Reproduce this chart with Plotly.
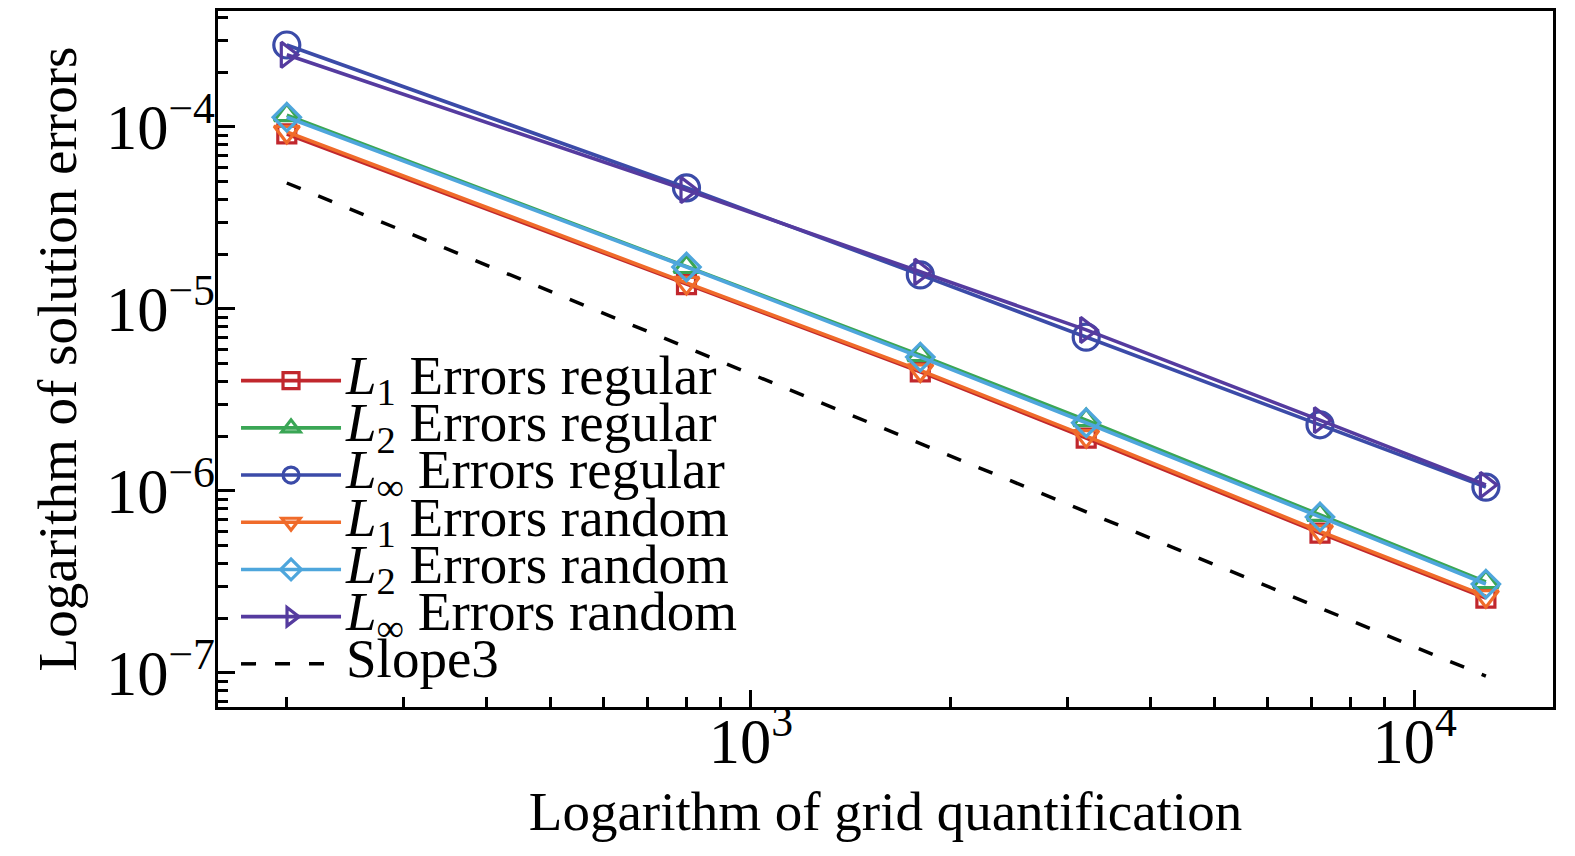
import plotly.graph_objects as go

# grid sizes and error norms
grid_points = [200, 800, 1800, 3200, 7200, 12800]

l1_regular = [9.15e-5, 1.36e-5, 4.51e-6, 1.95e-6, 5.87e-7, 2.58e-7]
l2_regular = [1.16e-4, 1.70e-5, 5.58e-6, 2.45e-6, 7.38e-7, 3.16e-7]
linf_regular = [2.82e-4, 4.63e-5, 1.54e-5, 7.0e-6, 2.31e-6, 1.05e-6]
l1_random = [9.4e-5, 1.39e-5, 4.6e-6, 2.0e-6, 6.0e-7, 2.64e-7]
l2_random = [1.13e-4, 1.70e-5, 5.44e-6, 2.37e-6, 7.2e-7, 3.08e-7]
linf_random = [2.49e-4, 4.5e-5, 1.6e-5, 7.67e-6, 2.45e-6, 1.08e-6]
slope3 = [4.92e-5, 6.15e-6, 1.82e-6, 7.69e-7, 2.28e-7, 9.6e-8]

FONT = "Liberation Serif"


def label(sub, kind):
    return (f'<span style="font-size:55px"><i>L</i><sub>{sub}</sub>'
            f' Errors {kind}</span>')


series = [
    (label("1", "regular"), l1_regular, "#c1272d", "square-open", 18),
    (label("2", "regular"), l2_regular, "#3aa655", "triangle-up-open", 22),
    (label("∞", "regular"), linf_regular, "#3b4ba8", "circle-open", 26),
    (label("1", "random"), l1_random, "#f06b2a", "triangle-down-open", 22),
    (label("2", "random"), l2_random, "#4ea6dc", "diamond-open", 21),
    (label("∞", "random"), linf_random, "#553b9f", "triangle-right-open", 22),
]

fig = go.Figure()

for name, values, color, symbol, size in series:
    fig.add_trace(go.Scatter(
        x=grid_points, y=values, name=name, mode="lines+markers",
        line=dict(color=color, width=3.6),
        marker=dict(symbol=symbol, size=size, color=color,
                    line=dict(color=color, width=3.2)),
    ))

fig.add_trace(go.Scatter(
    x=grid_points, y=slope3, name='<span style="font-size:55px">Slope3</span>',
    mode="lines", line=dict(color="black", width=3.5, dash="15px,19px"),
))

axis_style = dict(
    type="log", dtick=1, exponentformat="power", showexponent="all",
    showline=True, linecolor="black", linewidth=3, mirror=True,
    ticks="inside", ticklen=17, tickwidth=3, tickcolor="black",
    minor=dict(dtick="D1", ticks="inside", ticklen=10, tickwidth=2.5,
               tickcolor="black", showgrid=False),
    showgrid=False, zeroline=False, automargin=False,
    tickfont=dict(family=FONT, size=50, color="black"),
)

# the page body adds an 8px offset, so margins are shifted to compensate
fig.update_layout(
    width=1575, height=856,
    margin=dict(l=210, r=30, t=3, b=157),
    paper_bgcolor="white", plot_bgcolor="white",
    font=dict(family=FONT, color="black"),
    xaxis=dict(axis_style, range=[2.1974, 4.2083], ticklabelstandoff=-20,
               title=dict(text="Logarithm of grid quantification",
                          font=dict(family=FONT, size=55), standoff=16)),
    yaxis=dict(axis_style, range=[-7.187, -3.363], ticklabelstandoff=-10,
               title=dict(text="Logarithm of solution errors",
                          font=dict(family=FONT, size=55), standoff=12)),
    legend=dict(x=0.0135, y=0.51, xanchor="left", yanchor="top",
                bgcolor="rgba(0,0,0,0)", font=dict(family=FONT, size=34),
                itemwidth=100, tracegroupgap=0),
    showlegend=True,
)

fig.write_html("out.html")
